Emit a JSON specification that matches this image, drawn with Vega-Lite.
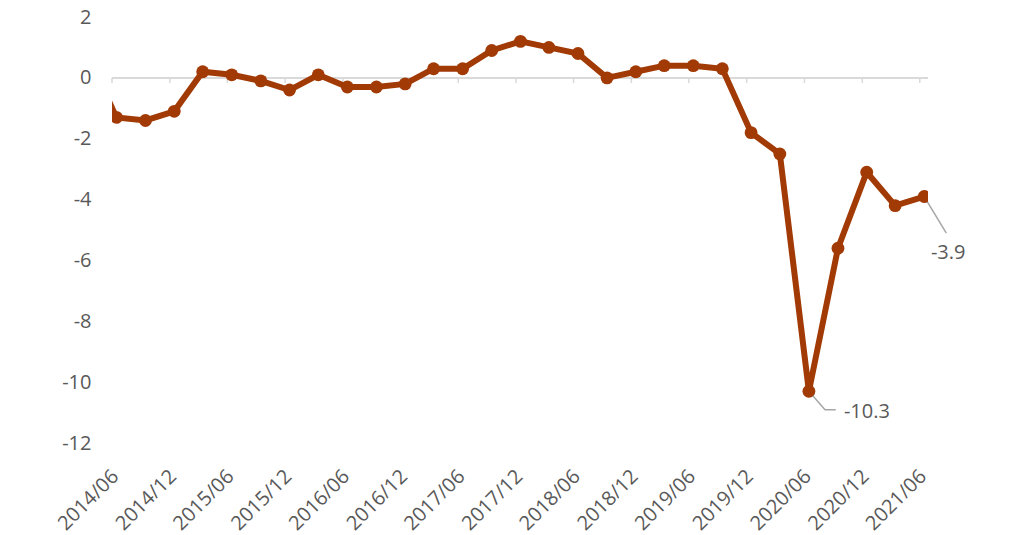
{
  "$schema": "https://vega.github.io/schema/vega-lite/v6.json",
  "width": 816,
  "height": 426,
  "autosize": "none",
  "padding": {"left": 112, "top": 17, "right": 96, "bottom": 92},
  "background": "white",
  "config": {
    "view": {"stroke": null},
    "font": "Open Sans",
    "axis": {"labelFont": "Open Sans", "labelColor": "#595959", "labelFontSize": 20, "grid": false}
  },
  "datasets": {
    "series": [
      {"date": "2014-03-15", "value": 0.8},
      {"date": "2014-06-15", "value": -1.3},
      {"date": "2014-09-15", "value": -1.4},
      {"date": "2014-12-15", "value": -1.1},
      {"date": "2015-03-15", "value": 0.2},
      {"date": "2015-06-15", "value": 0.1},
      {"date": "2015-09-15", "value": -0.1},
      {"date": "2015-12-15", "value": -0.4},
      {"date": "2016-03-15", "value": 0.1},
      {"date": "2016-06-15", "value": -0.3},
      {"date": "2016-09-15", "value": -0.3},
      {"date": "2016-12-15", "value": -0.2},
      {"date": "2017-03-15", "value": 0.3},
      {"date": "2017-06-15", "value": 0.3},
      {"date": "2017-09-15", "value": 0.9},
      {"date": "2017-12-15", "value": 1.2},
      {"date": "2018-03-15", "value": 1.0},
      {"date": "2018-06-15", "value": 0.8},
      {"date": "2018-09-15", "value": 0.0},
      {"date": "2018-12-15", "value": 0.2},
      {"date": "2019-03-15", "value": 0.4},
      {"date": "2019-06-15", "value": 0.4},
      {"date": "2019-09-15", "value": 0.3},
      {"date": "2019-12-15", "value": -1.8},
      {"date": "2020-03-15", "value": -2.5},
      {"date": "2020-06-15", "value": -10.3},
      {"date": "2020-09-15", "value": -5.6},
      {"date": "2020-12-15", "value": -3.1},
      {"date": "2021-03-15", "value": -4.2},
      {"date": "2021-06-15", "value": -3.9}
    ],
    "ticks": [
      {"date": "2014-06-01"}, {"date": "2014-12-01"}, {"date": "2015-06-01"}, {"date": "2015-12-01"},
      {"date": "2016-06-01"}, {"date": "2016-12-01"}, {"date": "2017-06-01"}, {"date": "2017-12-01"},
      {"date": "2018-06-01"}, {"date": "2018-12-01"}, {"date": "2019-06-01"}, {"date": "2019-12-01"},
      {"date": "2020-06-01"}, {"date": "2020-12-01"}, {"date": "2021-06-01"}
    ],
    "leaders": [
      {"g": "a", "o": 1, "date": "2020-06-15", "value": -10.3},
      {"g": "a", "o": 2, "date": "2020-08-05", "value": -10.91},
      {"g": "a", "o": 3, "date": "2020-09-08", "value": -10.91},
      {"g": "b", "o": 1, "date": "2021-06-15", "value": -3.9},
      {"g": "b", "o": 2, "date": "2021-08-24", "value": -5.1}
    ],
    "labels": [
      {"date": "2020-06-15", "value": -10.3, "text": "-10.3", "pos": "a"},
      {"date": "2021-06-15", "value": -3.9, "text": "-3.9", "pos": "b"}
    ]
  },
  "layer": [
    {
      "data": {"name": "series"},
      "mark": {"type": "rule", "color": "#d9d9d9", "strokeWidth": 1.5},
      "encoding": {"y": {"datum": 0, "type": "quantitative", "scale": {"domain": [-12, 2]}}}
    },
    {
      "data": {"name": "ticks"},
      "mark": {"type": "rule", "color": "#d9d9d9", "strokeWidth": 1.5},
      "encoding": {
        "x": {"field": "date", "type": "temporal"},
        "y": {"datum": 0, "type": "quantitative"},
        "y2": {"datum": -0.17}
      }
    },
    {
      "data": {"name": "leaders"},
      "mark": {"type": "line", "color": "#a6a6a6", "strokeWidth": 1.5},
      "encoding": {
        "x": {"field": "date", "type": "temporal"},
        "y": {"field": "value", "type": "quantitative"},
        "detail": {"field": "g"},
        "order": {"field": "o"}
      }
    },
    {
      "data": {"name": "series"},
      "mark": {"type": "line", "color": "#a13a05", "strokeWidth": 6, "clip": true, "point": {"filled": true, "size": 165, "color": "#a13a05", "opacity": 1}},
      "encoding": {
        "x": {
          "field": "date",
          "type": "temporal",
          "scale": {"domain": ["2014-06-01", "2021-06-27"]},
          "axis": {
            "values": [
              {"year": 2014, "month": 6, "date": 1}, {"year": 2014, "month": 12, "date": 1},
              {"year": 2015, "month": 6, "date": 1}, {"year": 2015, "month": 12, "date": 1},
              {"year": 2016, "month": 6, "date": 1}, {"year": 2016, "month": 12, "date": 1},
              {"year": 2017, "month": 6, "date": 1}, {"year": 2017, "month": 12, "date": 1},
              {"year": 2018, "month": 6, "date": 1}, {"year": 2018, "month": 12, "date": 1},
              {"year": 2019, "month": 6, "date": 1}, {"year": 2019, "month": 12, "date": 1},
              {"year": 2020, "month": 6, "date": 1}, {"year": 2020, "month": 12, "date": 1},
              {"year": 2021, "month": 6, "date": 1}
            ],
            "format": "%Y/%m",
            "labelAngle": -45,
            "labelAlign": "right",
            "labelBaseline": "middle",
            "labelPadding": 30,
            "labelOffset": 3,
            "domain": false,
            "ticks": false,
            "title": null,
            "labelOverlap": false,
            "labelBound": false,
            "labelFlush": false
          }
        },
        "y": {
          "field": "value",
          "type": "quantitative",
          "scale": {"domain": [-12, 2], "nice": false, "zero": false},
          "axis": {
            "values": [-12, -10, -8, -6, -4, -2, 0, 2],
            "labelExpr": "datum.value < 0 ? '-' + abs(datum.value) : '' + datum.value",
            "domain": false, "ticks": false, "labelPadding": 21, "title": null
          }
        }
      }
    },
    {
      "data": {"name": "labels"},
      "transform": [{"filter": "datum.pos == 'a'"}],
      "mark": {"type": "text", "align": "left", "baseline": "middle", "dx": 35, "dy": 21, "fontSize": 20, "color": "#595959", "font": "Open Sans"},
      "encoding": {
        "x": {"field": "date", "type": "temporal"},
        "y": {"field": "value", "type": "quantitative"},
        "text": {"field": "text"}
      }
    },
    {
      "data": {"name": "labels"},
      "transform": [{"filter": "datum.pos == 'b'"}],
      "mark": {"type": "text", "align": "center", "baseline": "middle", "dx": 24, "dy": 56, "fontSize": 20, "color": "#595959", "font": "Open Sans"},
      "encoding": {
        "x": {"field": "date", "type": "temporal"},
        "y": {"field": "value", "type": "quantitative"},
        "text": {"field": "text"}
      }
    }
  ]
}
